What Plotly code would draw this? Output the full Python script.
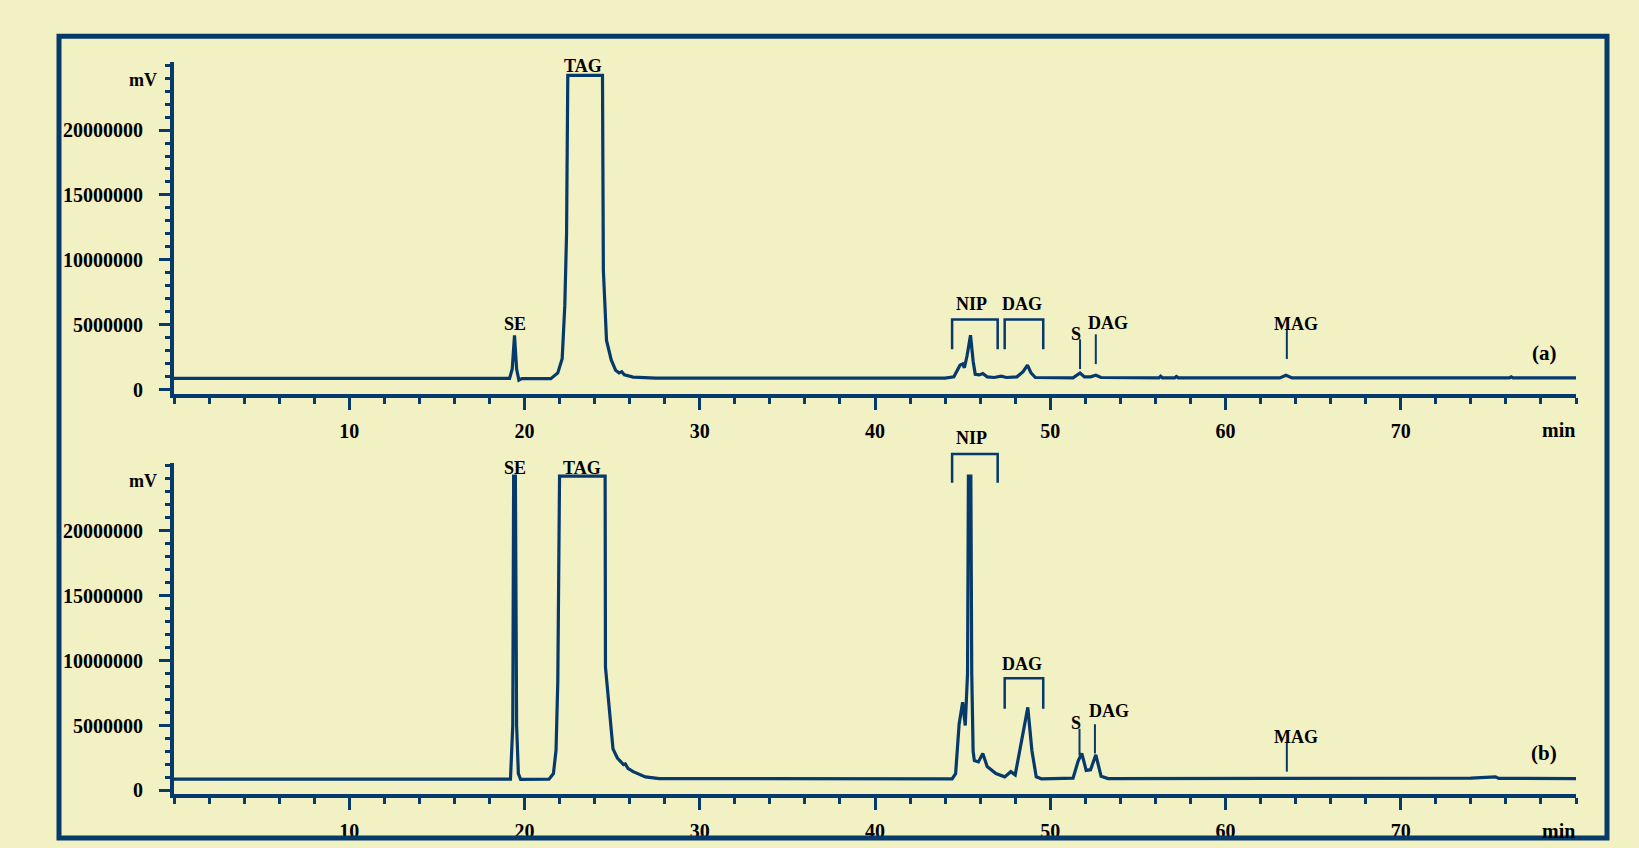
import plotly.graph_objects as go

# chromatogram (a): retention time (min) and detector signal (mV, millions)
time_a = [0.0, 19.15, 19.3, 19.43, 19.55, 19.68, 19.85, 21.5, 21.9, 22.15, 22.3, 22.4,
          22.47, 24.45, 24.5, 24.68, 24.95, 25.2, 25.4, 25.55, 25.7, 26.2, 27.5,
          44.0, 44.5, 44.85, 45.0, 45.1, 45.25, 45.45, 45.6, 45.72, 45.95, 46.15,
          46.4, 46.8, 47.2, 47.5, 48.1, 48.45, 48.7, 48.9, 49.15, 51.3, 51.7, 51.95,
          52.3, 52.6, 52.9, 56.2, 56.3, 56.4, 57.1, 57.2, 57.3, 63.1, 63.45, 63.8,
          76.2, 76.3, 76.4, 80.0]
signal_a = [0.88, 0.88, 1.6, 4.2, 1.6, 0.75, 0.86, 0.86, 1.3, 2.4, 6.5, 12.0,
            24.2, 24.2, 9.2, 3.8, 2.3, 1.5, 1.3, 1.4, 1.15, 0.98, 0.9,
            0.9, 1.0, 1.9, 2.0, 1.7, 2.6, 4.2, 2.2, 1.2, 1.15, 1.25,
            1.0, 0.95, 1.05, 0.95, 1.0, 1.4, 1.9, 1.3, 0.95, 0.92, 1.3, 1.0,
            1.0, 1.12, 0.95, 0.92, 1.05, 0.92, 0.92, 1.02, 0.92, 0.92, 1.12, 0.92,
            0.92, 1.0, 0.92, 0.92]

# chromatogram (b)
time_b = [0.0, 19.2, 19.33, 19.38, 19.48, 19.55, 19.65, 19.78, 21.4, 21.65, 21.8, 21.9,
          22.0, 24.6, 24.62, 24.85, 25.05, 25.3, 25.5, 25.65, 25.75, 25.9, 26.2, 26.9,
          27.7, 44.4, 44.6, 44.8, 45.0, 45.15, 45.28, 45.33, 45.47, 45.52, 45.6,
          45.67, 45.9, 46.15, 46.4, 46.9, 47.4, 47.75, 48.0, 48.3, 48.45, 48.72,
          48.95, 49.2, 49.5, 51.3, 51.6, 51.8, 52.05, 52.3, 52.6, 52.9, 53.3,
          63.3, 63.6, 64.0, 66.5, 68.0, 70.0, 72.0, 74.0, 75.4, 75.6, 80.0]
signal_b = [0.87, 0.87, 5.0, 24.2, 24.2, 5.0, 1.3, 0.85, 0.87, 1.3, 3.1, 8.4,
            24.2, 24.2, 9.5, 5.9, 3.2, 2.5, 2.2, 2.0, 2.05, 1.7, 1.45, 1.05,
            0.92, 0.9, 1.3, 5.1, 6.8, 5.0, 9.0, 24.2, 24.2, 9.0, 3.0,
            2.3, 2.2, 2.85, 1.85, 1.3, 1.05, 1.45, 1.2, 3.5, 4.3, 6.4,
            3.1, 1.05, 0.9, 0.95, 2.3, 2.85, 1.55, 1.6, 2.75, 1.1, 0.92,
            0.92, 0.98, 0.92, 0.94, 0.96, 0.95, 0.96, 0.95, 1.05, 0.93, 0.92]

# peak labels: text, time, signal level (millions)
labels_a = ['SE', 'TAG', 'NIP', 'DAG', 'S', 'DAG', 'MAG']
label_t_a = [19.43, 23.36, 45.5, 48.4, 51.45, 53.3, 64.0]
label_v_a = [5.35, 25.2, 6.87, 6.87, 4.58, 5.42, 5.34]
labels_b = ['SE', 'TAG', 'NIP', 'DAG', 'S', 'DAG', 'MAG']
label_t_b = [19.43, 23.3, 45.5, 48.4, 51.45, 53.35, 64.0]
label_v_b = [25.06, 25.06, 27.4, 10.0, 5.5, 6.35, 4.35]

# brackets (t0, t1, top, bottom) and marker lines (t, top, bottom)
brackets_a = [(44.4, 47.0, 5.42, 3.13), (47.4, 49.6, 5.42, 3.13)]
marks_a = [(51.7, 3.89, 1.6), (52.6, 4.27, 1.98), (63.5, 4.66, 2.37)]
brackets_b = [(44.4, 47.0, 25.9, 23.7), (47.4, 49.6, 8.65, 6.3)]
marks_b = [(51.67, 4.75, 2.7), (52.55, 5.1, 2.85), (63.5, 3.75, 1.45)]

W, H = 1639, 848
NAVY = '#053a6b'
BG = '#f2f1c4'
FONT = 'Liberation Serif'

X_DOM = [174 / W, 1576 / W]
X_RANGE = [0, 80]
Y_RANGE = [-0.3e6, 25.2e6]
Y_DOMS = {'a': [1 - 397 / H, 1 - 63 / H], 'b': [1 - 801 / H, 1 - 467 / H]}
TEXT_DROP = 3.5  # px, caps sit above the middle of the text box


def px(t):
    return X_DOM[0] + (t - X_RANGE[0]) / (X_RANGE[1] - X_RANGE[0]) * (X_DOM[1] - X_DOM[0])


def py(v, panel):
    d = Y_DOMS[panel]
    return d[0] + (v * 1e6 - Y_RANGE[0]) / (Y_RANGE[1] - Y_RANGE[0]) * (d[1] - d[0])


def note(text, x, y, size=18, xanchor='center'):
    return dict(text=text, x=x, y=y - TEXT_DROP / H, xref='paper', yref='paper', showarrow=False,
                xanchor=xanchor, yanchor='middle', borderpad=0,
                font=dict(family=FONT, size=size, color='black', weight='bold'))


fig = go.Figure()
fig.add_trace(go.Scatter(x=time_a, y=[v * 1e6 for v in signal_a], mode='lines',
                         line=dict(color=NAVY, width=3.2), xaxis='x', yaxis='y'))
fig.add_trace(go.Scatter(x=time_b, y=[v * 1e6 for v in signal_b], mode='lines',
                         line=dict(color=NAVY, width=3.2), xaxis='x2', yaxis='y2'))

tickfont = dict(family=FONT, size=20, color='black', weight='bold')
xax = dict(domain=X_DOM, range=X_RANGE, showgrid=False, zeroline=False,
           showline=True, linecolor=NAVY, linewidth=4,
           tickmode='array', tickvals=[10, 20, 30, 40, 50, 60, 70],
           ticks='outside', ticklen=12, tickwidth=3, tickcolor=NAVY,
           ticklabelstandoff=4, tickfont=tickfont,
           minor=dict(tickmode='linear', dtick=2, tick0=0, ticks='outside',
                      ticklen=6, tickwidth=3, tickcolor=NAVY))
yax = dict(range=Y_RANGE, showgrid=False, zeroline=False,
           showline=True, linecolor=NAVY, linewidth=4,
           tickmode='array', tickvals=[0, 5e6, 10e6, 15e6, 20e6], tickformat='d',
           ticks='outside', ticklen=11, tickwidth=3, tickcolor=NAVY,
           ticklabelstandoff=12, tickfont=tickfont,
           minor=dict(tickmode='linear', dtick=1e6, tick0=0, ticks='outside',
                      ticklen=5, tickwidth=3, tickcolor=NAVY))

shapes = []
annotations = []
panels = [('a', labels_a, label_t_a, label_v_a, brackets_a, marks_a),
          ('b', labels_b, label_t_b, label_v_b, brackets_b, marks_b)]
for panel, texts, ts, vs, brackets, marks in panels:
    for txt, t, v in zip(texts, ts, vs):
        annotations.append(note(txt, px(t), py(v, panel)))
    for t0, t1, top, bot in brackets:
        path = 'M {:.5f},{:.5f} L {:.5f},{:.5f} L {:.5f},{:.5f} L {:.5f},{:.5f}'.format(
            px(t0), py(bot, panel), px(t0), py(top, panel),
            px(t1), py(top, panel), px(t1), py(bot, panel))
        shapes.append(dict(type='path', path=path, xref='paper', yref='paper',
                           line=dict(color=NAVY, width=2.5)))
    for t, top, bot in marks:
        shapes.append(dict(type='line', x0=px(t), x1=px(t), y0=py(bot, panel), y1=py(top, panel),
                           xref='paper', yref='paper', line=dict(color=NAVY, width=2)))
    top_px = 63 if panel == 'a' else 467
    axis_px = 397 if panel == 'a' else 801
    annotations.append(note('mV', 158 / W, 1 - (top_px + 14) / H, xanchor='right'))
    annotations.append(note('min', 1576 / W, 1 - (axis_px + 33) / H, size=20, xanchor='right'))
    annotations.append(note('({})'.format(panel), 1544 / W, 1 - (axis_px - 45) / H, size=21))

# outer frame
fx0, fx1, fy0, fy1 = 59 / W, 1607 / W, 1 - 845 / H, 1 - 36.5 / H
shapes.append(dict(type='path', xref='paper', yref='paper',
                   path='M {0},{2} L {1},{2} L {1},{3} L {0},{3} Z'.format(fx0, fx1, fy0, fy1),
                   line=dict(color=NAVY, width=5)))

fig.update_layout(
    width=W, height=H,
    margin=dict(l=0, r=0, t=0, b=0),
    paper_bgcolor=BG, plot_bgcolor=BG,
    showlegend=False,
    xaxis=dict(xax, anchor='y'),
    yaxis=dict(yax, domain=Y_DOMS['a'], anchor='x'),
    xaxis2=dict(xax, anchor='y2'),
    yaxis2=dict(yax, domain=Y_DOMS['b'], anchor='x2'),
    shapes=shapes,
    annotations=annotations,
)

fig.write_html('out.html', config={'displayModeBar': False},
               post_script="document.body.style.margin='0';document.body.style.overflow='hidden';")
